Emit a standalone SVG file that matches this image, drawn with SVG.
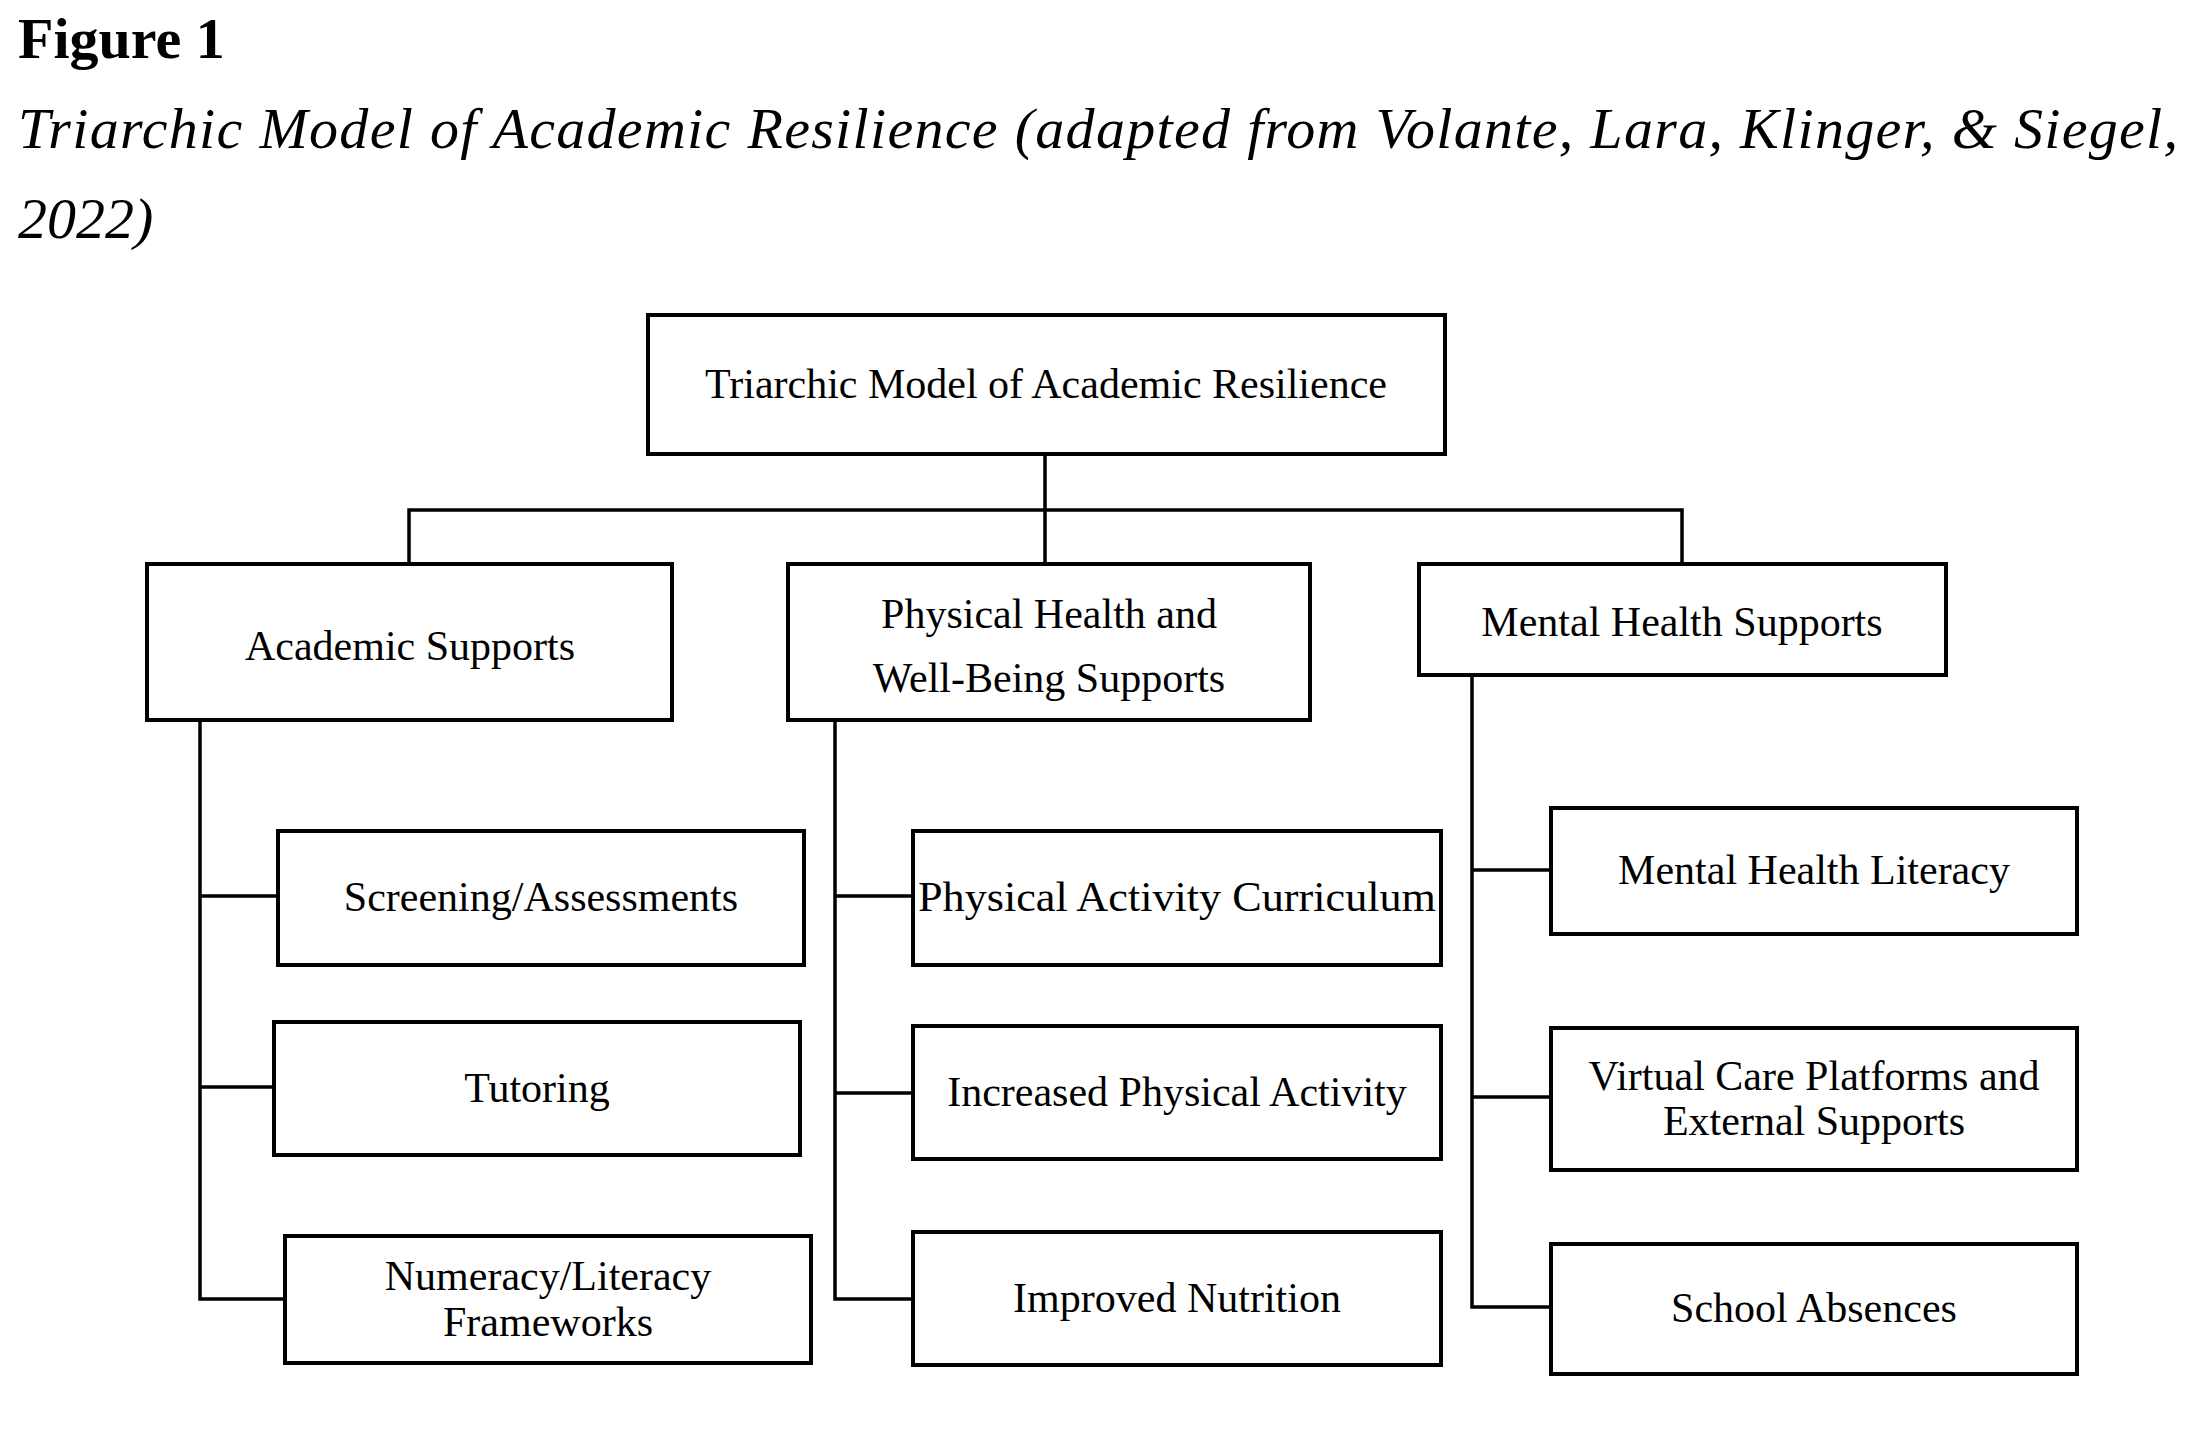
<svg xmlns="http://www.w3.org/2000/svg" width="2196" height="1435" viewBox="0 0 2196 1435">
<style>
.b{fill:#fff;stroke:#000;stroke-width:4}
.t{font-family:"Liberation Serif",serif;font-size:42px;text-anchor:middle;fill:#000}
.c{fill:none;stroke:#000;stroke-width:3.5}
</style>
<rect width="2196" height="1435" fill="#fff"/>
<text x="18" y="58" font-family="Liberation Serif,serif" font-weight="bold" font-size="58">Figure 1</text>
<text x="18" y="148" font-family="Liberation Serif,serif" font-style="italic" font-size="58" textLength="2160" lengthAdjust="spacing">Triarchic Model of Academic Resilience (adapted from Volante, Lara, Klinger, &amp; Siegel,</text>
<text x="18" y="238" font-family="Liberation Serif,serif" font-style="italic" font-size="58">2022)</text>
<g id="connectors" class="c">
<path d="M1045 455V510M409 562V510H1682V562M1045 510V562"/>
<path d="M200 720V1299H285M200 896H278M200 1087H274"/>
<path d="M835 720V1299H913M835 896H913M835 1093H913"/>
<path d="M1472 675V1307H1551M1472 870H1551M1472 1097H1551"/>
</g>
<g id="root"><rect class="b" x="648" y="315" width="797" height="139"/><text class="t" x="1046" y="398">Triarchic Model of Academic Resilience</text></g>
<g id="academic"><rect class="b" x="147" y="564" width="525" height="156"/><text class="t" x="410" y="660">Academic Supports</text></g>
<g id="physical"><rect class="b" x="788" y="564" width="522" height="156"/><text class="t" x="1049" y="628">Physical Health and</text><text class="t" x="1049" y="692">Well-Being Supports</text></g>
<g id="mental"><rect class="b" x="1419" y="564" width="527" height="111"/><text class="t" x="1682" y="636">Mental Health Supports</text></g>
<g id="screening"><rect class="b" x="278" y="831" width="526" height="134"/><text class="t" x="541" y="911">Screening/Assessments</text></g>
<g id="tutoring"><rect class="b" x="274" y="1022" width="526" height="133"/><text class="t" x="537" y="1102">Tutoring</text></g>
<g id="numeracy"><rect class="b" x="285" y="1236" width="526" height="127"/><text class="t" x="548" y="1290">Numeracy/Literacy</text><text class="t" x="548" y="1336">Frameworks</text></g>
<g id="pac"><rect class="b" x="913" y="831" width="528" height="134"/><text class="t" x="1177" y="911" textLength="518" lengthAdjust="spacingAndGlyphs">Physical Activity Curriculum</text></g>
<g id="increased"><rect class="b" x="913" y="1026" width="528" height="133"/><text class="t" x="1177" y="1106">Increased Physical Activity</text></g>
<g id="nutrition"><rect class="b" x="913" y="1232" width="528" height="133"/><text class="t" x="1177" y="1312">Improved Nutrition</text></g>
<g id="mhl"><rect class="b" x="1551" y="808" width="526" height="126"/><text class="t" x="1814" y="884">Mental Health Literacy</text></g>
<g id="virtual"><rect class="b" x="1551" y="1028" width="526" height="142"/><text class="t" x="1814" y="1090">Virtual Care Platforms and</text><text class="t" x="1814" y="1135">External Supports</text></g>
<g id="absences"><rect class="b" x="1551" y="1244" width="526" height="130"/><text class="t" x="1814" y="1322">School Absences</text></g>
</svg>
